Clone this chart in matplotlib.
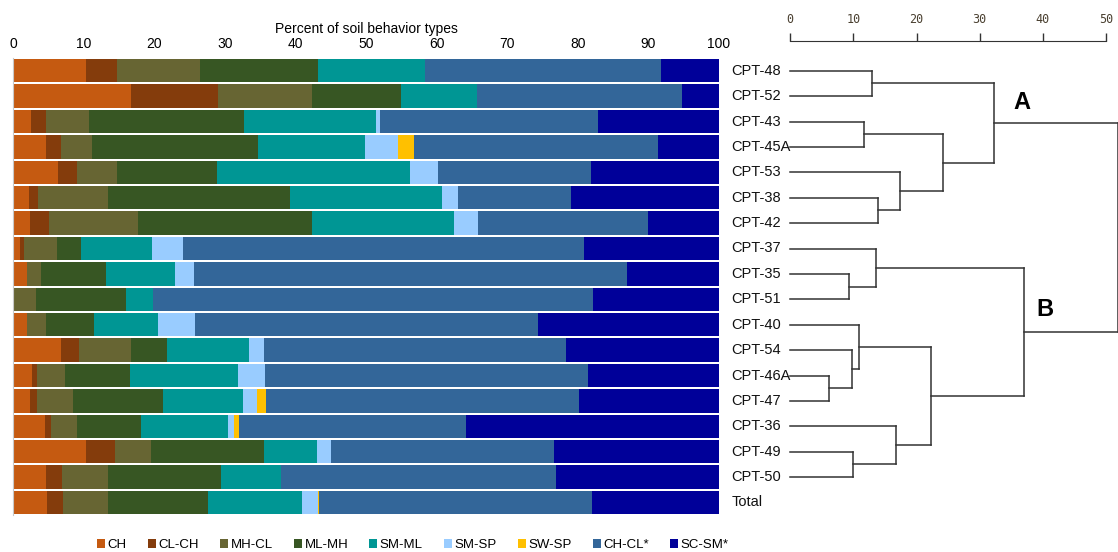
import matplotlib
matplotlib.use("Agg")
import matplotlib.pyplot as plt
from matplotlib.patches import Patch

plt.rcParams['font.family'] = ['Liberation Sans', 'DejaVu Sans']

# sites, top to bottom
sites = ['CPT-48', 'CPT-52', 'CPT-43', 'CPT-45A', 'CPT-53', 'CPT-38', 'CPT-42',
         'CPT-37', 'CPT-35', 'CPT-51', 'CPT-40', 'CPT-54', 'CPT-46A', 'CPT-47',
         'CPT-36', 'CPT-49', 'CPT-50', 'Total']

# percent of each soil behavior type per site
ch    = [10.3, 16.7, 2.5, 4.7, 6.4, 2.3, 2.4, 1.0, 2.0, 0.0, 2.0, 6.8, 2.7, 2.4, 4.6, 10.4, 4.7, 4.8]
cl_ch = [4.4, 12.3, 2.2, 2.1, 2.7, 1.3, 2.7, 0.5, 0.0, 0.0, 0.0, 2.5, 0.7, 1.0, 0.8, 4.1, 2.2, 2.3]
mh_cl = [11.8, 13.3, 6.1, 4.4, 5.6, 9.8, 12.6, 4.8, 1.9, 3.3, 2.7, 7.4, 4.0, 5.1, 3.6, 5.0, 6.6, 6.4]
ml_mh = [16.7, 12.7, 21.9, 23.5, 14.2, 25.9, 24.7, 3.3, 9.3, 12.7, 6.8, 5.1, 9.2, 12.7, 9.2, 16.1, 16.0, 14.1]
sm_ml = [15.2, 10.7, 18.7, 15.1, 27.3, 21.5, 20.1, 10.1, 9.8, 3.8, 9.1, 11.6, 15.2, 11.4, 12.3, 7.4, 8.4, 13.3]
sm_sp = [0.0, 0.0, 0.6, 4.7, 4.0, 2.3, 3.4, 4.4, 2.7, 0.0, 5.2, 2.1, 3.9, 2.0, 0.8, 2.1, 0.0, 2.3]
sw_sp = [0.0, 0.0, 0.0, 2.3, 0.0, 0.0, 0.0, 0.0, 0.0, 0.0, 0.0, 0.0, 0.0, 1.2, 0.7, 0.0, 0.0, 0.2]
ch_cl = [33.4, 29.1, 30.8, 34.6, 21.7, 16.0, 24.1, 56.8, 61.3, 62.4, 48.6, 42.8, 45.7, 44.3, 32.2, 31.5, 39.0, 38.6]
sc_sm = [8.2, 5.2, 17.2, 8.6, 18.1, 20.9, 10.0, 19.1, 13.0, 17.8, 25.6, 21.7, 18.6, 19.9, 35.8, 23.4, 23.1, 18.0]

types = ['CH', 'CL-CH', 'MH-CL', 'ML-MH', 'SM-ML', 'SM-SP', 'SW-SP', 'CH-CL*', 'SC-SM*']
series = [ch, cl_ch, mh_cl, ml_mh, sm_ml, sm_sp, sw_sp, ch_cl, sc_sm]
colors = ['#c55a11', '#843c0c', '#676533', '#375623', '#009694',
          '#99ccff', '#ffc000', '#336699', '#000099']

# hierarchical clustering of the sites: (child, child, distance)
# leaves are 0..16 in the order of `sites`, new nodes numbered from 17
merges = [(0, 1, 13.0), (2, 3, 11.6), (5, 6, 13.9), (4, 19, 17.3),
          (18, 20, 24.2), (17, 21, 32.2), (8, 9, 9.25), (7, 23, 13.6),
          (12, 13, 6.2), (11, 25, 9.7), (10, 26, 10.9), (15, 16, 10.0),
          (14, 28, 16.7), (27, 29, 22.3), (24, 30, 37.0), (22, 31, 51.9)]
dist_ticks = [0, 10, 20, 30, 40, 50]

W, H = 1118, 552
fig = plt.figure(figsize=(W / 100, H / 100), dpi=100)

top_px, bot_px = 58, 515.2
ax = fig.add_axes([13 / W, 1 - bot_px / H, 706 / W, (bot_px - top_px) / H])

ypos = list(range(len(sites)))
left = [0.0] * len(sites)
for vals, c in zip(series, colors):
    ax.barh(ypos, vals, left=left, height=0.92, color=c, linewidth=0)
    left = [a + b for a, b in zip(left, vals)]

ax.set_xlim(0, 100)
ax.set_ylim(len(sites) - 0.5, -0.5)
ax.set_xticks(range(0, 101, 10))
ax.xaxis.tick_top()
ax.xaxis.set_label_position('top')
ax.tick_params(axis='x', length=0, pad=5, labelsize=10)
ax.set_xlabel('Percent of soil behavior types', fontsize=10, labelpad=3)
ax.set_yticks([])
for s in ['top', 'right', 'bottom']:
    ax.spines[s].set_visible(False)
ax.spines['left'].set_color('#c8c8c8')

# dendrogram
axd = fig.add_axes([790.3 / W, 1 - bot_px / H, (1106 - 790.3) / W, (bot_px - top_px) / H])
axd.set_xlim(0, 50)
axd.set_ylim(len(sites) - 0.5, -0.5)
axd.axis('off')

n_leaf = len(sites) - 1
pos = {i: i for i in range(n_leaf)}
hgt = {i: 0.0 for i in range(n_leaf)}
lc = '#333333'
for k, (a, b, d) in enumerate(merges):
    node = n_leaf + k
    axd.plot([hgt[a], d], [pos[a], pos[a]], color=lc, lw=1.1, clip_on=False)
    axd.plot([hgt[b], d], [pos[b], pos[b]], color=lc, lw=1.1, clip_on=False)
    axd.plot([d, d], [pos[a], pos[b]], color=lc, lw=1.1, clip_on=False)
    pos[node] = (pos[a] + pos[b]) / 2
    hgt[node] = d

for i, name in enumerate(sites):
    axd.text(-9.3, i, name, ha='left', va='center', fontsize=10.5, color='#111111')

axd.text(36.7, 1.27, 'A', fontsize=17, fontweight='bold', ha='center', va='center')
axd.text(40.4, 9.42, 'B', fontsize=17, fontweight='bold', ha='center', va='center')

# distance scale above the dendrogram
axs = fig.add_axes([790.3 / W, 1 - 41 / H, (1106 - 790.3) / W, 0.0001])
axs.set_xlim(0, 50)
axs.set_yticks([])
axs.set_xticks(dist_ticks)
axs.xaxis.tick_top()
for s in ['left', 'right', 'bottom']:
    axs.spines[s].set_visible(False)
axs.spines['top'].set_color('#333333')
axs.tick_params(axis='x', direction='out', length=6, width=1, color='#333333',
                pad=5, labelsize=8.5, labelcolor='#4a4030')
for t in axs.get_xticklabels():
    t.set_family('DejaVu Sans Mono')

handles = [Patch(facecolor=c, edgecolor='none') for c in colors]
fig.legend(handles, types, loc='center', bbox_to_anchor=(413 / W, 1 - 545 / H),
           ncol=9, frameon=False, fontsize=9.5, handlelength=0.6, handleheight=0.6,
           handletextpad=0.2, columnspacing=1.6)

fig.savefig('out.png', dpi=100)
